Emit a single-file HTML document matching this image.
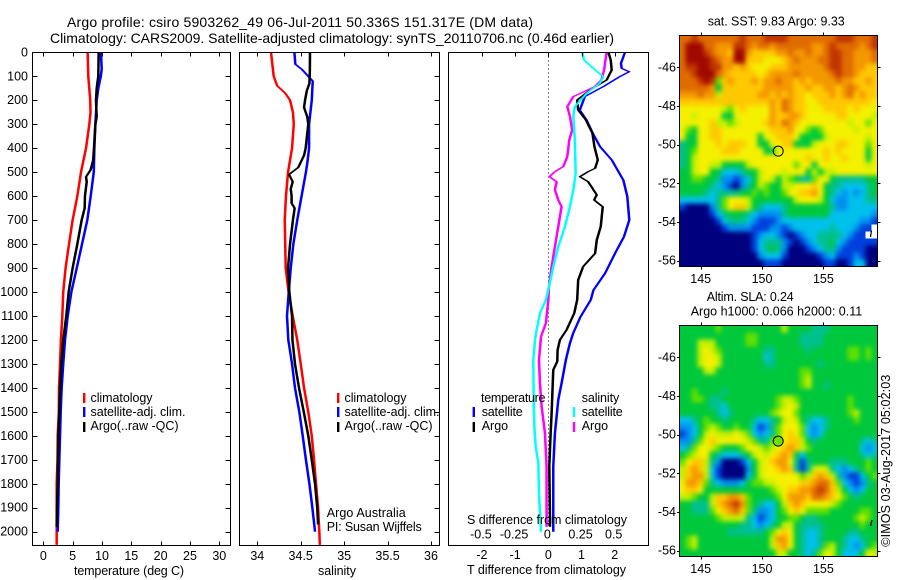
<!DOCTYPE html>
<html lang="en">
<head>
<meta charset="utf-8">
<title>Argo profile csiro 5903262_49</title>
<style>
html,body{margin:0;padding:0;background:#fff;width:900px;height:580px;overflow:hidden}
svg{display:block}
text{font-family:"Liberation Sans",sans-serif;font-size:12.5px;fill:#000}
.title{font-size:14px}
</style>
</head>
<body>
<svg id="chart" xmlns="http://www.w3.org/2000/svg" width="900" height="580" viewBox="0 0 900 580">
  <defs>
    <clipPath id="mapClip">
      <rect x="679.5" y="35.5" width="198" height="231"/>
      <rect x="679.5" y="325.5" width="198" height="231"/>
    </clipPath>
    <filter id="mapSmooth" filterUnits="userSpaceOnUse" x="660" y="20" width="240" height="550" color-interpolation-filters="sRGB">
      <feGaussianBlur stdDeviation="2.4"/>
      <feComponentTransfer>
        <feFuncA type="linear" slope="4"/>
      </feComponentTransfer>
    </filter>
  </defs>
  <rect x="0" y="0" width="900" height="580" fill="#fff"/>
  <text class="title" x="67" y="27" textLength="466">Argo profile: csiro 5903262_49 06-Jul-2011 50.336S 151.317E (DM data)</text>
  <text class="title" x="50" y="43" textLength="564">Climatology: CARS2009. Satellite-adjusted climatology: synTS_20110706.nc (0.46d earlier)</text>
  <g clip-path="url(#mapClip)">
    <g id="heatLayer" filter="url(#mapSmooth)"></g>
    <g id="maskLayer"></g>
  </g>
  <g id="seriesLayer"></g>
  <g id="axisLayer"></g>

  <text x="74" y="575" textLength="110">temperature (deg C)</text>
  <text x="318" y="575" textLength="38">salinity</text>
  <text x="467" y="574" textLength="159">T difference from climatology</text>
  <text x="467" y="524" textLength="160">S difference from climatology</text>

  <g>
    <rect x="83" y="393" width="2.4" height="10" fill="#f00"/>
    <text x="90.5" y="402" textLength="62">climatology</text>
    <rect x="83" y="407" width="2.4" height="10" fill="#00f"/>
    <text x="90.5" y="416" textLength="95">satellite-adj. clim.</text>
    <rect x="83" y="422" width="2.4" height="10" fill="#000"/>
    <text x="90.5" y="430" textLength="88">Argo(..raw -QC)</text>
  </g>
  <g>
    <rect x="337" y="393" width="2.4" height="10" fill="#f00"/>
    <text x="344.5" y="402" textLength="62">climatology</text>
    <rect x="337" y="407" width="2.4" height="10" fill="#00f"/>
    <text x="344.5" y="416" textLength="95">satellite-adj. clim.</text>
    <rect x="337" y="422" width="2.4" height="10" fill="#000"/>
    <text x="344.5" y="430" textLength="88">Argo(..raw -QC)</text>
  </g>
  <text x="326.7" y="517" textLength="79">Argo Australia</text>
  <text x="326.7" y="531" textLength="95">PI: Susan Wijffels</text>
  <g>
    <text x="481" y="402" textLength="64.5">temperature</text>
    <rect x="472.6" y="407" width="2.4" height="10" fill="#00f"/>
    <text x="481.7" y="416" textLength="41">satellite</text>
    <rect x="472.6" y="422" width="2.4" height="10" fill="#000"/>
    <text x="481.7" y="430">Argo</text>
    <text x="581.7" y="402" textLength="37.5">salinity</text>
    <rect x="572.8" y="407" width="2.4" height="10" fill="#0ff"/>
    <text x="581.7" y="416" textLength="41">satellite</text>
    <rect x="572.8" y="422" width="2.4" height="10" fill="#f0f"/>
    <text x="581.7" y="430">Argo</text>
  </g>

  <text x="707.7" y="25.7" textLength="137">sat. SST: 9.83 Argo: 9.33</text>
  <text x="706.7" y="301" textLength="87">Altim. SLA: 0.24</text>
  <text x="690.7" y="315.7" textLength="171.5">Argo h1000: 0.066 h2000: 0.11</text>
  <text transform="translate(890 546.7) rotate(-90)" x="0" y="0" textLength="172">©IMOS 03-Aug-2017 05:02:03</text>
</svg>
<script>
// ---- axis ticks ----
const depthTicks = [0,100,200,300,400,500,600,700,800,900,1000,1100,1200,1300,1400,1500,1600,1700,1800,1900,2000];
const tempTicks = [0,5,10,15,20,25,30];
const salTicks = [34,34.5,35,35.5,36];
const salTickLabels = ['34','34.5','35','35.5','36'];
const diffTTicks = [-2,-1,0,1,2];
const diffSTicks = [-0.5,-0.25,0,0.25,0.5];
const diffSTickLabels = ['-0.5','-0.25','0','0.25','0.5'];
const lonTicks = [145,150,155];
const latTicks = [-46,-48,-50,-52,-54,-56];

// ---- temperature panel ----
const tempClimDepth = [0,100,200,250,300,400,500,600,700,800,900,1000,1100,1200,1300,1400,1500,1600,1700,1800,2000,2055];
const tempClimValues = [7.56,7.67,8.0,8.05,7.85,7.28,6.43,5.8,5.0,4.38,3.8,3.4,3.24,3.0,2.85,2.68,2.65,2.45,2.42,2.28,2.28,2.28];
const tempSatDepth = [0,70,100,150,200,300,400,500,600,700,800,900,1000,1100,1200,1300,1400,1500,1600,1700,1800,1900,2000];
const tempSatValues = [9.83,9.95,9.8,9.37,9.1,8.87,8.7,8.6,8.08,7.5,6.6,5.7,4.78,4.16,3.7,3.4,3.13,2.96,2.85,2.73,2.62,2.56,2.45];
const tempArgoDepth = [0,100,150,200,270,300,400,450,490,520,540,600,650,700,800,900,1000,1100,1200,1300,1400,1500,1600,1700,1800,1900,1980];
const tempArgoValues = [9.44,9.37,9.1,8.98,9.1,8.87,8.64,8.5,8.07,7.28,7.4,7.1,7.05,6.54,5.8,5.0,4.32,3.92,3.4,3.07,2.85,2.73,2.56,2.5,2.45,2.34,2.28];

// ---- salinity panel ----
const salClimDepth = [0,50,100,140,170,200,250,300,400,450,500,600,700,900,1000,1100,1200,1300,1400,1500,1600,1700,1800,1900,2000,2055];
const salClimValues = [34.158,34.173,34.189,34.23,34.32,34.377,34.41,34.42,34.40,34.377,34.354,34.33,34.316,34.327,34.36,34.408,34.46,34.5,34.538,34.587,34.627,34.653,34.676,34.70,34.714,34.72];
const salSatDepth = [0,50,70,100,120,200,300,400,450,500,600,700,800,900,1000,1100,1200,1300,1400,1500,1600,1700,1800,1900,2000];
const salSatValues = [34.427,34.438,34.51,34.587,34.638,34.627,34.596,34.596,34.58,34.56,34.51,34.46,34.415,34.385,34.362,34.342,34.357,34.40,34.434,34.484,34.523,34.56,34.6,34.634,34.665];
const salArgoDepth = [0,80,130,160,200,230,270,300,400,430,480,510,540,570,600,630,650,700,800,900,1000,1100,1200,1300,1400,1500,1600,1700,1800,1900,1970];
const salArgoValues = [34.607,34.605,34.6,34.57,34.55,34.538,34.576,34.587,34.557,34.538,34.472,34.365,34.408,34.385,34.395,34.395,34.43,34.41,34.377,34.354,34.369,34.40,34.405,34.434,34.48,34.535,34.587,34.627,34.665,34.69,34.70];

// ---- difference panel ----
const diffTSatDepth = [0,46,67,81,102,143,185,241,282,338,394,449,533,602,700,769,839,922,992,1033,1103,1172,1214,1283,1381,1450,1589,1728,1868,2000];
const diffTSatValues = [2.31,2.19,2.21,2.44,2.15,1.66,1.1,0.95,1.15,1.34,1.56,1.91,2.26,2.38,2.44,2.28,2.01,1.71,1.36,1.28,0.97,0.75,0.65,0.53,0.40,0.30,0.20,0.15,0.15,0.15];
const diffTArgoDepth = [0,32,74,115,157,199,241,282,338,394,449,484,498,519,540,561,595,616,644,727,783,839,894,950,1033,1089,1158,1200,1242,1290,1325,1395,1506,1589,1728,1937,1979];
const diffTArgoValues = [1.81,1.88,1.91,1.76,1.26,0.87,0.9,1.13,1.33,1.39,1.49,1.41,1.2,0.95,1.2,1.3,1.46,1.38,1.64,1.58,1.46,1.41,1.05,0.9,0.87,0.78,0.55,0.35,0.28,0.27,0.15,0.13,0.10,0.07,0.03,0.05,0.05];
const diffSSatDepth = [0,32,67,102,129,171,227,268,366,505,561,644,727,811,894,978,1033,1089,1158,1200,1283,1450,1561,1645,1714,1840,2000];
const diffSSatValues = [0.256,0.269,0.339,0.414,0.389,0.289,0.2,0.188,0.2,0.206,0.193,0.163,0.125,0.075,0.038,0.005,-0.018,-0.063,-0.088,-0.1,-0.113,-0.11,-0.105,-0.095,-0.075,-0.07,-0.055];
const diffSArgoDepth = [0,74,115,143,185,227,268,324,366,435,477,498,519,540,574,616,644,727,811,894,978,1033,1130,1186,1283,1381,1478,1589,1728,1979];
const diffSArgoValues = [0.439,0.42,0.40,0.35,0.188,0.143,0.163,0.18,0.158,0.143,0.113,0.05,0.008,0.063,0.05,0.075,0.10,0.075,0.05,0.025,0.005,0,-0.018,-0.055,-0.07,-0.063,-0.05,-0.025,-0.013,-0.013];

// ---- maps: each row is colour-level characters, west to east, north to south (spaces ignored) ----
const colourLevels = {
  '0':'#00007f','1':'#0040dc','2':'#0090f0','3':'#00c0ec','4':'#00c090','5':'#00c83c',
  '6':'#60e000','7':'#c4f000','8':'#f4f000','9':'#ffc800','a':'#f49800','b':'#e06c00',
  'c':'#c03400','d':'#a00800','w':'#0040dc'
};
const sstRows = [
 'bbcbbbbbbbc bbbccccbbbb bbbbcccbbbc',
 'bdddbbaaacc babbabbbbbb aabcbbbbabc',
 'bdddcbaa9dd a9999aabaab aabccbbaaab',
 'bddddcbaadd 9998889abaa abbccbbaaab',
 'bccddccaa9a 9888999aaaa aabccbbaa99',
 'bbcdddba999 9989aaaabaa aaabcbba999',
 'bbbcdc69a99 9a9aabaa9a9 aaaabaa99a9',
 'bbbbba59999 999aaaaa99a 99aa9aba999',
 'aaabaa79999 99aa9a9a998 999a9ab9a99',
 '99999999999 9999a9ba998 89999999998',
 '88888887689 8888a9ba998 88999989888',
 '88788885588 8888a99aa98 88889988887',
 '88888977678 8889a9ba988 88888878868',
 '86588998888 8888999a886 56888887888',
 '85588998888 88588999855 55788888878',
 '45588898999 88558899555 78889988868',
 '45688889998 88855888888 88989888858',
 '45788888888 88888888889 88988988858',
 '45788775555 78888888688 58888888878',
 '55788553334 55788878885 75778888888',
 '55665542212 35787576544 68854444455',
 '55555432102 45765577888 98544333345',
 '55554344445 56565568899 a8543232345',
 '33333346888 75555555788 87532233344',
 '10000246899 75433345555 55542233333',
 '00000134555 43222245555 55533333332',
 '00000013444 32111233333 33333333221',
 '00000001222 21112212333 3334333211w',
 '00000000000 01233210123 344443211ww',
 '00000000000 01344421012 34453211111',
 '00000000000 01345420001 23442111100',
 '00000000000 00233310000 01231112100',
 '00000000000 00011100000 00110013300'
];
const slaRows = [
 '55555565555 55555575555 44455555555',
 '55555555555 66555555544 44555555555',
 '55577755555 66555555544 44555555555',
 '55578765555 55544555554 55555566565',
 '55578875555 55534555555 55555566565',
 '55578875555 55544555555 54555555555',
 '55557755555 55555555566 55555555555',
 '55555555555 55555555567 55555555555',
 '55555555555 55555555567 55455555555',
 '55655554555 55555555555 55555555555',
 '55665445555 55555677655 55555565555',
 '55555443555 55555678755 55555565555',
 '55555543455 55556788655 55555567555',
 '33456554555 54334578754 33455556555',
 '22356765565 53124688863 23455555555',
 '12357877787 63234689863 23555555555',
 '22468988888 76446789975 45555555434',
 '34688765556 8876789a976 55555555323',
 '56788543334 578789a9535 55555555434',
 '68997420001 35789aa8414 55544455565',
 '79a97310000 257889a9414 78743234565',
 '79aa7310000 35788888867 9a974211356',
 '8aa96432223 56677888899 abb96321245',
 '89985555555 555567899aa bcb97532355',
 '77655799aa9 6555568aaa9 bba98654555',
 '5544479abca 65433579a98 88876555555',
 '55444689ab9 64223568986 66655555665',
 '55555567777 43123556654 45555556765',
 '55555555554 43234577544 44555555655',
 '55555555444 44456898543 34555544555',
 '56755555555 55557aa8543 34555433455',
 '56755555555 555579a8543 34675432356',
 '55555555555 55555775543 46875333587'
];

// ---- geometry ----
const panelTop = 52.5, panelBottom = 545.5;
const SVGNS = 'http://www.w3.org/2000/svg';
const heatLayer = document.getElementById('heatLayer');
const maskLayer = document.getElementById('maskLayer');
const seriesLayer = document.getElementById('seriesLayer');
const axisLayer = document.getElementById('axisLayer');

function yDepth(d){ return 52.3 + d * 0.2397; }
function xTemp(t){ return 43.3 + t * 5.867; }
function xSal(s){ return 257.3 + (s - 34) * 86.85; }
function xDiffT(t){ return 548.3 + t * 33.2; }
function xDiffS(s){ return 548.3 + s * 132.8; }
function xLon(lon){ return 700.7 + (lon - 145) * 12.27; }
function yLatTop(lat){ return 67.3 + (-46 - lat) * 19.34; }
function yLatBottom(lat){ return 357.3 + (-46 - lat) * 19.34; }

function make(tag, attrs, parent){
  const el = document.createElementNS(SVGNS, tag);
  for (const k in attrs) el.setAttribute(k, attrs[k]);
  parent.appendChild(el);
  return el;
}
function tick(name, x1, y1, x2, y2){
  const el = make('line', {x1:x1, y1:y1, x2:x2, y2:y2, stroke:'#000', 'stroke-width':1, 'shape-rendering':'crispEdges'}, axisLayer);
  
  
}
function label(name, str, x, y, anchor){
  const el = make('text', {x:x, y:y, 'text-anchor':anchor}, axisLayer);
  el.textContent = str;
  
  
}
function frame(name, x, y, w, h){
  const el = make('rect', {x:x, y:y, width:w, height:h, fill:'none', stroke:'#000', 'stroke-width':1, 'shape-rendering':'crispEdges'}, axisLayer);
  
  
}
// The original pen is wider horizontally than vertically: stroke in an x-stretched space.
const penStretch = 2.4;
function drawSeries(name, depths, values, xFn, colour){
  const pts = depths.map(function(d, i){ return (xFn(values[i]) / penStretch).toFixed(2) + ',' + yDepth(d).toFixed(1); }).join(' ');
  const el = make('polyline', {points:pts, transform:'scale(' + penStretch + ',1)', fill:'none', stroke:colour, 'stroke-width':1.05, 'stroke-linejoin':'round'}, seriesLayer);
  
  
}
function drawHeat(name, rows, left, top){
  const cw = 198 / 33, ch = 231 / 33;
  rows.forEach(function(raw, r){
    const row = raw.replace(/ /g, '');
    for (let c = 0; c < row.length; c++){
      const el = make('rect', {x:left + c * cw, y:top + r * ch, width:cw + 0.3, height:ch + 0.3, fill:colourLevels[row[c]]}, heatLayer);
      
      
      if (row[c] === 'w') {
        const blank = make('rect', {x:left + c * cw, y:top + r * ch, width:cw, height:ch, fill:'#fff'}, maskLayer);
        
        
      }
    }
  });
}

// heatmaps
drawHeat('sst-heat-cell', sstRows, 679.5, 35.5);
drawHeat('sla-heat-cell', slaRows, 679.5, 325.5);

// series
drawSeries('temperature-climatology-line', tempClimDepth, tempClimValues, xTemp, '#f00');
drawSeries('temperature-satellite-line', tempSatDepth, tempSatValues, xTemp, '#00f');
drawSeries('temperature-argo-line', tempArgoDepth, tempArgoValues, xTemp, '#000');
drawSeries('salinity-climatology-line', salClimDepth, salClimValues, xSal, '#f00');
drawSeries('salinity-satellite-line', salSatDepth, salSatValues, xSal, '#00f');
drawSeries('salinity-argo-line', salArgoDepth, salArgoValues, xSal, '#000');

const zeroLine = make('line', {x1:xDiffT(0), y1:panelTop, x2:xDiffT(0), y2:yDepth(1980), stroke:'#000', 'stroke-width':1, 'stroke-dasharray':'1 3', 'shape-rendering':'crispEdges'}, seriesLayer);



drawSeries('t-difference-satellite-line', diffTSatDepth, diffTSatValues, xDiffT, '#00f');
drawSeries('t-difference-argo-line', diffTArgoDepth, diffTArgoValues, xDiffT, '#000');
drawSeries('s-difference-argo-line', diffSArgoDepth, diffSArgoValues, xDiffS, '#f0f');
drawSeries('s-difference-satellite-line', diffSSatDepth, diffSSatValues, xDiffS, '#0ff');

// profile panels
frame('temperature-panel-frame', 32.5, panelTop, 198, panelBottom - panelTop);
frame('salinity-panel-frame', 239.5, panelTop, 200, panelBottom - panelTop);
frame('difference-panel-frame', 448.5, panelTop, 200, panelBottom - panelTop);

depthTicks.forEach(function(d){
  const y = Math.round(yDepth(d)) + 0.5;
  tick('depth-tick', 32.5, y, 37.5, y);
  tick('depth-tick', 225.5, y, 230.5, y);
  tick('depth-tick', 434.5, y, 439.5, y);
  label('depth-tick-label', String(d), 28, yDepth(d) + 4, 'end');
});
tempTicks.forEach(function(t){
  const x = Math.round(xTemp(t)) + 0.5;
  tick('temperature-tick', x, panelTop, x, panelTop + 4);
  tick('temperature-tick', x, panelBottom - 4, x, panelBottom);
  label('temperature-tick-label', String(t), xTemp(t), 560, 'middle');
});
salTicks.forEach(function(s, i){
  const x = Math.round(xSal(s)) + 0.5;
  tick('salinity-tick', x, panelTop, x, panelTop + 4);
  tick('salinity-tick', x, panelBottom - 4, x, panelBottom);
  label('salinity-tick-label', salTickLabels[i], xSal(s), 560, 'middle');
});
diffTTicks.forEach(function(t){
  const x = Math.round(xDiffT(t)) + 0.5;
  tick('t-difference-tick', x, panelTop, x, panelTop + 4);
  label('t-difference-tick-label', String(t), xDiffT(t), 559, 'middle');
});
diffSTicks.forEach(function(s, i){
  label('s-difference-tick-label', diffSTickLabels[i], xDiffS(s) - 1, 538.7, 'middle');
});

// maps
function drawMapAxes(prefix, top, yFn, labelY){
  frame(prefix + '-map-frame', 679.5, top, 198, 231);
  lonTicks.forEach(function(lon){
    const x = Math.round(xLon(lon)) + 0.5;
    tick(prefix + '-longitude-tick', x, top - 3, x, top);
    tick(prefix + '-longitude-tick', x, top + 231, x, top + 234);
    label(prefix + '-longitude-tick-label', String(lon), xLon(lon), labelY, 'middle');
  });
  latTicks.forEach(function(lat){
    const y = Math.round(yFn(lat)) + 0.5;
    tick(prefix + '-latitude-tick', 677, y, 679.5, y);
    tick(prefix + '-latitude-tick', 877.5, y, 880.5, y);
    label(prefix + '-latitude-tick-label', String(lat), 676, yFn(lat) + 4, 'end');
  });
}
drawMapAxes('sst', 35.5, yLatTop, 283);
drawMapAxes('sla', 325.5, yLatBottom, 573);

const profileLon = 151.317, profileLat = -50.336;
const sstMarker = make('circle', {cx:xLon(profileLon), cy:yLatTop(profileLat), r:5, fill:'none', stroke:'#000', 'stroke-width':1}, axisLayer);


const slaMarker = make('circle', {cx:xLon(profileLon), cy:yLatBottom(profileLat), r:5, fill:'#70e000', stroke:'#000', 'stroke-width':1}, axisLayer);



const sstSpeck = make('line', {x1:870.5, y1:237, x2:871.5, y2:230.5, stroke:'#000', 'stroke-width':1.2}, axisLayer);


const slaSpeck = make('line', {x1:870.5, y1:526, x2:872, y2:520, stroke:'#000', 'stroke-width':1.2}, axisLayer);


</script>
</body>
</html>
